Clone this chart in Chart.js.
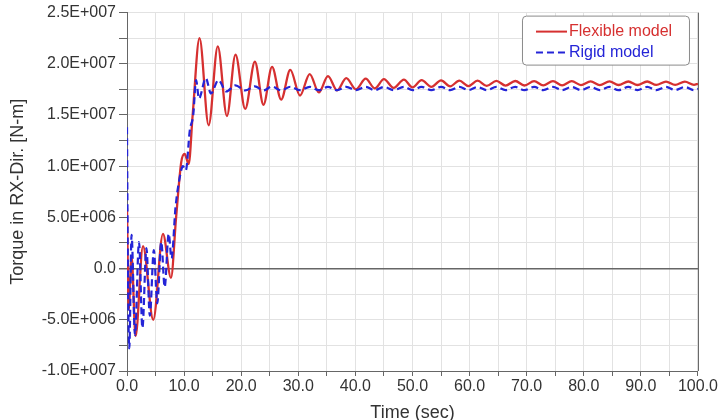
<!DOCTYPE html>
<html>
<head>
<meta charset="utf-8">
<title>Torque in RX-Dir.</title>
<script src="https://cdn.jsdelivr.net/npm/chart.js@4.4.1/dist/chart.umd.min.js"></script>
<style>
  html, body { margin: 0; padding: 0; background: #fff; }
  #wrap { width: 719px; height: 420px; }
</style>
</head>
<body>
<div id="wrap"><canvas id="torqueChart" width="719" height="420"></canvas></div>
<script>
// time (sec) and torque (1.0E+006 N-m)
const flexTime = [0, 0.3, 0.8, 1.5, 2.8, 4.6, 6.3, 7.7, 8.6, 9.5, 10.1, 10.8, 11.5,
    12.7, 14.3, 15.9, 17.5, 19.0, 20.7, 22.4, 23.9, 25.4, 27.0, 28.6, 30.3, 32.0, 33.6,
    35.2, 36.8, 38.4, 40.1, 41.8, 43.4, 45.0, 46.7, 48.5, 50.0, 51.6, 53.3, 55.0, 56.6,
    58.2, 59.8, 61.4, 63.0, 64.7, 66.3, 68.0, 69.6, 71.3, 72.9, 74.6, 76.2, 77.9, 79.5,
    81.2, 82.8, 84.5, 86.1, 87.8, 89.4, 91.1, 92.7, 94.4, 96.0, 97.7, 99.3, 100];
const flexTorque = [5.9, -4.0, 1.2, -6.6, 2.2, -5.0, 3.4, -0.9, 5.0, 10.4, 11.2, 10.2, 15.0,
    22.5, 14.0, 21.7, 14.9, 20.9, 15.6, 20.2, 16.0, 19.7, 16.5, 19.4, 16.9, 19.0, 17.2,
    18.8, 17.4, 18.6, 17.5, 18.55, 17.6, 18.5, 17.65, 18.45, 17.7, 18.4, 17.75, 18.38, 17.8,
    18.35, 17.82, 18.35, 17.85, 18.33, 17.87, 18.32, 17.88, 18.3, 17.9, 18.3, 17.9, 18.3, 17.92,
    18.28, 17.92, 18.28, 17.93, 18.27, 17.93, 18.27, 17.94, 18.26, 17.94, 18.26, 17.95, 18.05];

const rigidTime = [0, 0.15, 0.4, 0.8, 1.4, 2.1, 2.7, 3.4, 4.0, 4.7, 5.3, 6.0, 6.6, 7.3,
    7.8, 8.5, 9.2, 9.8, 10.3, 11.0, 11.6, 12.1, 12.6, 13.8, 14.7, 16.0, 17.4, 19.0, 20.7,
    22.4, 23.9, 25.4, 27.0, 28.6, 30.3, 32.0, 33.6, 35.2, 36.8, 38.4, 40.1, 41.8, 43.4,
    45.0, 46.7, 48.5, 50.0, 51.6, 53.3, 55.0, 56.6, 58.2, 59.8, 61.4, 63.0, 64.7, 66.3,
    68.0, 69.6, 71.3, 72.9, 74.6, 76.2, 77.9, 79.5, 81.2, 82.8, 84.5, 86.1, 87.8, 89.4,
    91.1, 92.7, 94.4, 96.0, 97.7, 99.3, 100];
const rigidTorque = [13.8, 0.5, -7.8, 3.3, -6.5, 2.6, -5.8, 2.0, -4.6, 1.8, -3.4, 2.6, -1.8, 3.4,
    1.0, 6.0, 8.8, 10.0, 9.6, 13.5, 15.0, 18.4, 16.6, 18.6, 17.1, 18.4, 17.3, 17.9, 17.4,
    17.8, 17.4, 17.78, 17.4, 17.76, 17.42, 17.75, 17.42, 17.75, 17.42, 17.75, 17.42, 17.75, 17.42,
    17.74, 17.43, 17.74, 17.43, 17.74, 17.43, 17.74, 17.43, 17.74, 17.43, 17.74, 17.43, 17.74, 17.43,
    17.74, 17.43, 17.74, 17.43, 17.74, 17.43, 17.74, 17.43, 17.74, 17.43, 17.74, 17.43, 17.74, 17.43,
    17.74, 17.43, 17.74, 17.43, 17.74, 17.43, 17.55];

const seriesLabels = ['Flexible model', 'Rigid model'];
const xTitle = 'Time (sec)';
const yTitle = 'Torque in RX-Dir. [N-m]';

function toPoints(ts, vs) {
    return ts.map(function (t, i) { return { x: t, y: vs[i] * 1e6 }; });
}

// 2.5E+007 style labels
function sciLabel(v) {
    if (Math.abs(v) < 1) return '0.0';
    const e = Math.floor(Math.log10(Math.abs(v)) + 1e-9);
    const m = v / Math.pow(10, e);
    return m.toFixed(1) + 'E+' + String(e).padStart(3, '0');
}

const FONT = "'Liberation Sans', Arial, sans-serif";
const RED = 'rgb(214, 48, 48)';
const BLUE = 'rgb(36, 36, 215)';

// box legend in the top right corner + right frame line
const boxLegend = {
    id: 'boxLegend',
    afterDraw(chart) {
        const c = chart.ctx;
        const a = chart.chartArea;
        c.save();
        c.strokeStyle = '#666';
        c.lineWidth = 1;
        c.beginPath();
        c.moveTo(a.right + 0.5, a.top);
        c.lineTo(a.right + 0.5, a.bottom);
        c.stroke();

        const x0 = a.right - 176, y0 = a.top + 3, w = 167, h = 49;
        c.fillStyle = '#fff';
        c.strokeStyle = '#8a8a8a';
        c.beginPath();
        c.roundRect(x0 + 0.5, y0 + 0.5, w, h, 4);
        c.fill();
        c.stroke();

        c.font = '16px ' + FONT;
        c.textBaseline = 'middle';
        chart.data.datasets.forEach(function (ds, i) {
            const yy = y0 + 16 + i * 21;
            c.strokeStyle = ds.borderColor;
            c.lineWidth = 2;
            c.setLineDash(ds.borderDash || []);
            c.beginPath();
            c.moveTo(x0 + 14, yy);
            c.lineTo(x0 + 45, yy);
            c.stroke();
            c.setLineDash([]);
            c.fillStyle = ds.borderColor;
            c.fillText(ds.label, x0 + 47, yy);
        });
        c.restore();
    }
};

document.addEventListener('DOMContentLoaded', function () {
    const ctx = document.getElementById('torqueChart').getContext('2d');
    const torqueChart = new Chart(ctx, {
        type: 'line',
        data: {
            datasets: [{
                label: seriesLabels[0],
                data: toPoints(flexTime, flexTorque),
                borderColor: RED,
                borderWidth: 2.3,
                pointRadius: 0,
                cubicInterpolationMode: 'monotone',
                order: 1
            }, {
                label: seriesLabels[1],
                data: toPoints(rigidTime, rigidTorque),
                borderColor: BLUE,
                borderWidth: 2.2,
                borderDash: [7, 4],
                pointRadius: 0,
                cubicInterpolationMode: 'monotone',
                order: 0
            }]
        },
        options: {
            responsive: false,
            animation: false,
            layout: { autoPadding: false, padding: { top: 10, right: 14, left: 0, bottom: 0 } },
            plugins: { legend: { display: false }, tooltip: { enabled: false } },
            scales: {
                x: {
                    type: 'linear',
                    min: 0,
                    max: 100,
                    afterFit: function (s) { s.height = 49; },
                    border: { color: '#666', width: 1 },
                    grid: { color: '#e2e2e2', tickColor: '#666', tickLength: 5 },
                    ticks: {
                        stepSize: 5,
                        padding: 1,
                        maxRotation: 0,
                        autoSkip: false,
                        color: '#333',
                        font: { family: FONT, size: 16 },
                        callback: function (v) { return v % 10 === 0 ? v.toFixed(1) : ''; }
                    },
                    title: {
                        display: true,
                        text: xTitle,
                        color: '#333',
                        padding: { top: 0, bottom: 0 },
                        font: { family: FONT, size: 18, lineHeight: 0.8 }
                    }
                },
                y: {
                    type: 'linear',
                    min: -1e7,
                    max: 2.5e7,
                    afterFit: function (s) { s.width = 127; },
                    border: { color: '#666', width: 1 },
                    grid: {
                        color: function (c) { return c.tick && c.tick.value === 0 ? '#666' : '#e2e2e2'; },
                        lineWidth: function (c) { return c.tick && c.tick.value === 0 ? 1.5 : 1; },
                        tickColor: '#666',
                        tickLength: 8
                    },
                    ticks: {
                        stepSize: 2.5e6,
                        padding: 3,
                        autoSkip: false,
                        color: '#333',
                        font: { family: FONT, size: 16 },
                        callback: function (v) {
                            return Math.round(v / 2.5e6) % 2 === 0 ? sciLabel(v) : '';
                        }
                    },
                    title: {
                        display: true,
                        text: yTitle,
                        color: '#333',
                        padding: { top: 7, bottom: 0 },
                        font: { family: FONT, size: 18 }
                    }
                }
            }
        },
        plugins: [boxLegend]
    });
});
</script>
</body>
</html>
